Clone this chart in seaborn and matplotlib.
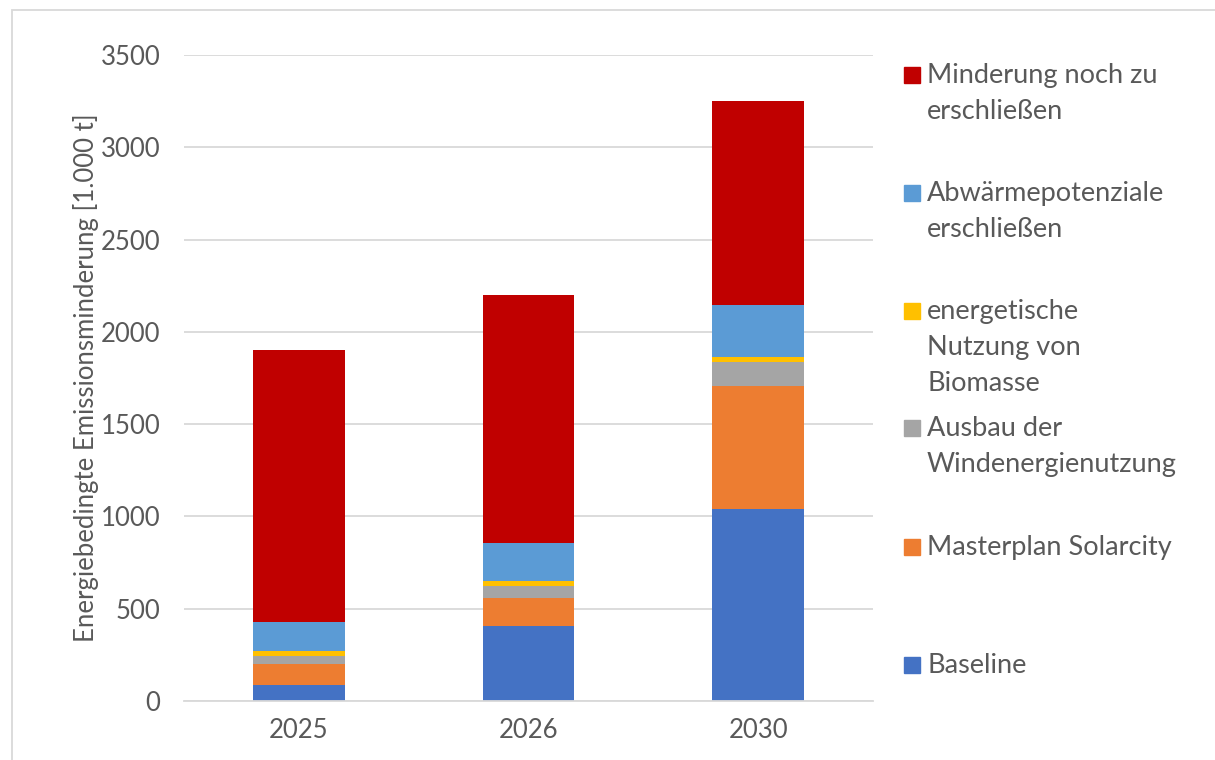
import pandas as pd
import matplotlib.pyplot as plt
import seaborn as sns
from matplotlib.patches import Rectangle

# Werte in 1.000 t
jahre = ["2025", "2026", "2030"]
baseline = [87, 408, 1041]
solarcity = [112, 152, 664]
windenergie = [47, 62, 130]
biomasse = [27, 30, 29]
abwaerme = [155, 205, 284]
minderung_rest = [1472, 1343, 1102]

serien = ["Baseline", "Masterplan Solarcity", "Ausbau der\nWindenergienutzung",
          "energetische\nNutzung von\nBiomasse", "Abwärmepotenziale\nerschließen",
          "Minderung noch zu\nerschließen"]
farben = ["#4472C4", "#ED7D31", "#A5A5A5", "#FFC000", "#5B9BD5", "#C00000"]

df = pd.DataFrame({"jahr": jahre, serien[0]: baseline, serien[1]: solarcity,
                   serien[2]: windenergie, serien[3]: biomasse,
                   serien[4]: abwaerme, serien[5]: minderung_rest})
kum = df[serien].cumsum(axis=1)
kum["jahr"] = jahre

sns.set_style("white")
plt.rcParams["font.family"] = ["Lato", "DejaVu Sans"]
grau = "#595959"

fig = plt.figure(figsize=(12.15, 7.6), dpi=100)
ax = fig.add_axes([184 / 1215, 1 - 701 / 760, 689 / 1215, 646 / 760])

# gestapelt: von oben nach unten überlagern
for s, c in reversed(list(zip(serien, farben))):
    sns.barplot(data=kum, x="jahr", y=s, color=c, width=0.4, saturation=1,
                ax=ax, linewidth=0)

ax.set_ylim(0, 3500)
ax.set_yticks(range(0, 3501, 500))
ax.yaxis.grid(True, color="#D9D9D9", linewidth=1.3)
ax.set_axisbelow(True)
for sp in ["left", "right", "top"]:
    ax.spines[sp].set_visible(False)
ax.spines["bottom"].set_color("#D9D9D9")
ax.spines["bottom"].set_linewidth(1.3)
ax.tick_params(axis="both", length=0, labelsize=18.5, colors=grau)
ax.tick_params(axis="y", pad=17)
ax.tick_params(axis="x", pad=12)
ax.set_xlabel("")
ax.set_ylabel("Energiebedingte Emissionsminderung [1.000 t]", fontsize=18.5,
              color=grau, labelpad=1)

# Legende rechts
leg_y = [75, 193, 311, 428, 547, 665]
for s, c, y in zip(reversed(serien), reversed(farben), leg_y):
    fig.patches.append(Rectangle((904 / 1215, 1 - (y + 8) / 760), 16 / 1215, 16 / 760,
                                 transform=fig.transFigure, color=c))
    fig.text(927 / 1215, 1 - (y - 12) / 760, s, fontsize=19.5, color=grau,
             va="top", ha="left", linespacing=1.55)

fig.patches.append(Rectangle((12 / 1215, -0.01), 1.5, 1 - 10 / 760 + 0.01,
                             transform=fig.transFigure, fill=False,
                             edgecolor="#D9D9D9", linewidth=1.3))

fig.savefig("out.png", dpi=100)
